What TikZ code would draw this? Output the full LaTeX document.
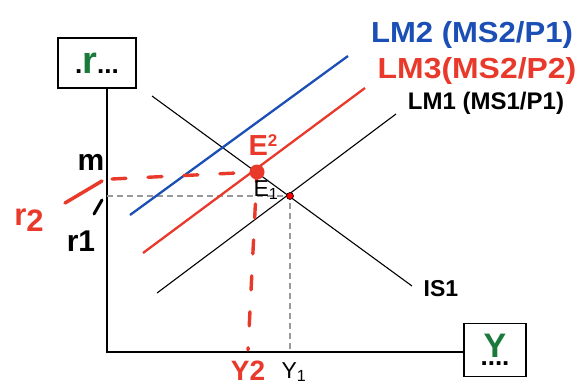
\documentclass[tikz,border=0pt]{standalone}
\usepackage{fontspec}
\setmainfont{Liberation Sans}
\begin{document}
\begin{tikzpicture}[x=1pt,y=-1pt,
  ax/.style={line width=1.4pt,black},
  thin/.style={line width=1.1pt,black},
  bluel/.style={line width=2.3pt,color=lmblue},
  redl/.style={line width=2.3pt,color=lmred},
  greyd/.style={line width=1.1pt,color=black!40,dash pattern=on 6pt off 4pt},
  redd/.style={line width=3.4pt,color=lmred,dash pattern=on 14pt off 22pt,line cap=round},
  hand/.style={font=\bfseries\fontsize{29}{29}\selectfont},
  lbl/.style={font=\bfseries\fontsize{24}{24}\selectfont},
  axbox/.style={draw,line width=1.2pt,inner sep=0pt,font=\bfseries\fontsize{26}{26}\selectfont}]
\definecolor{lmblue}{HTML}{1B4FB5}
\definecolor{lmred}{HTML}{E8392B}
\definecolor{lmgreen}{HTML}{1A7A3C}
\useasboundingbox (0,0) rectangle (583,388);
% axis boxes
\node[axbox,minimum width=78pt,minimum height=50pt] (rbox) at (97,63) {\raisebox{-2pt}{.\textcolor{lmgreen}{\fontsize{38}{38}\selectfont r}...}};
\node[axbox,minimum width=62pt,minimum height=53pt] (ybox) at (495,350) {\makebox[0pt]{\raisebox{-8pt}{....}}\makebox[0pt]{\textcolor{lmgreen}{\fontsize{34}{34}\selectfont Y}}};
\coordinate (O) at (107,352);
\draw[ax] (rbox.south -| O) -- (O) -- (ybox.west |- O);
% points
\coordinate (E1) at (290,196);
\coordinate (E2) at (257,172);
% IS and LM curves
\coordinate (IS1a) at (152,96);  \coordinate (IS1b) at (412,286);
\coordinate (LM1a) at (157,293); \coordinate (LM1b) at (396,114);
\coordinate (LM3a) at (143,253); \coordinate (LM3b) at (365,88);
\coordinate (LM2a) at (130,215); \coordinate (LM2b) at (348,56);
\draw[greyd] (O |- E1) -- (E1) -- (E1 |- O);
\draw[thin] (IS1a) -- (IS1b);
\draw[thin] (LM1a) -- (LM1b);
\draw[redl] (LM3a) -- (LM3b);
\draw[bluel] (LM2a) -- (LM2b);
\node[circle,fill=red,draw=black,line width=0.6pt,minimum size=7pt,inner sep=0pt] (e1dot) at (E1) {};
% red handwritten dashed guides
\coordinate (r2h) at (112,179);
\draw[redd] (r2h) -- (E2);
\draw[redd,dash phase=4pt] (E2) -- (248,350);
\node[circle,fill=lmred,minimum size=15pt,inner sep=0pt] (e2dot) at (E2) {};
\coordinate (rs1) at (65,203); \coordinate (rs2) at (102,181);
\draw[line width=3.5pt,lmred,line cap=round] (rs1) -- (rs2);
\coordinate (bs1) at (94,214); \coordinate (bs2) at (102,200);
\draw[line width=3pt,black,line cap=round] (bs1) -- (bs2);
% labels
\node[hand,text=lmblue,inner sep=0pt] (lm2l) at (472,35) {\scalebox{1.07}[1]{LM2 (MS2/P1)}};
\node[hand,text=lmred,inner sep=0pt] (lm3l) at (477,71) {\scalebox{1.1}[1]{LM3(MS2/P2)}};
\node[lbl,inner sep=0pt] (lm1l) at (486,103) {LM1 (MS1/P1)};
\node[font=\bfseries\fontsize{23}{23}\selectfont,inner sep=0pt] (is1l) at (441,289) {IS1};
\node[font=\fontsize{23}{23}\selectfont,inner sep=0pt] (e1l) at (266,190) {E$_{\mathrm{1}}$};
\node[font=\fontsize{23}{23}\selectfont,inner sep=0pt] (y1l) at (294,372) {Y$_{\mathrm{1}}$};
\node[hand,text=lmred,inner sep=0pt] (e2l) at (263,145) {E\raisebox{9pt}{\fontsize{17}{17}\selectfont 2}};
\node[font=\bfseries\fontsize{28}{28}\selectfont,text=lmred,inner sep=0pt] (y2l) at (248,371) {Y2};
\node[font=\bfseries\fontsize{31}{31}\selectfont,text=lmred,inner sep=0pt] (r2l) at (29,220) {r\raisebox{-6pt}{2}};
\node[font=\bfseries\fontsize{30}{30}\selectfont,inner sep=0pt] (r1l) at (81,241) {r1};
\node[font=\bfseries\fontsize{30}{30}\selectfont,inner sep=0pt] (ml) at (91,162) {m};
\end{tikzpicture}
\end{document}
